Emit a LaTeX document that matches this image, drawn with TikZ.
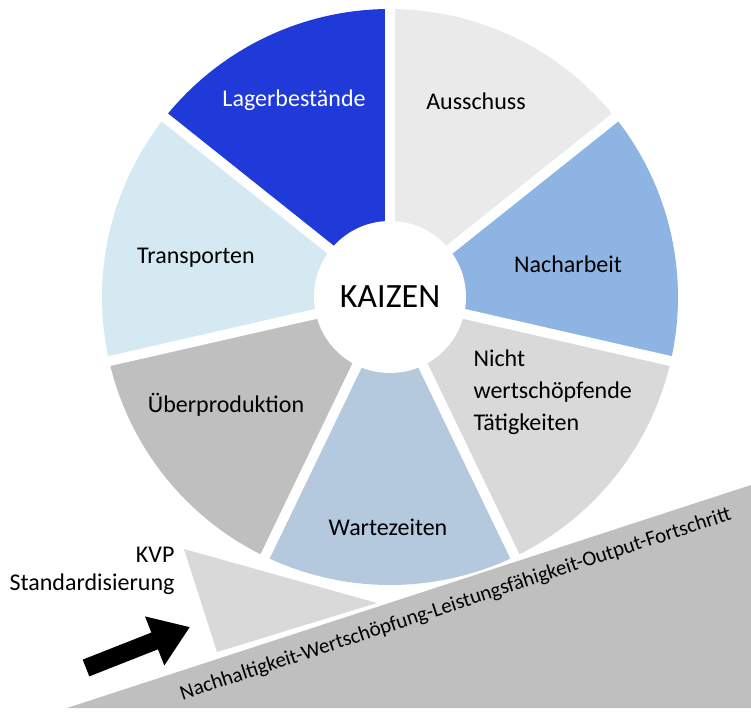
\documentclass[tikz,border=0pt]{standalone}
\usepackage{fontspec}
\setmainfont{Carlito}
\usetikzlibrary{arrows.meta}
\definecolor{cLag}{HTML}{1F3AD8}
\definecolor{cAus}{HTML}{EAEAEA}
\definecolor{cNach}{HTML}{8EB4E3}
\definecolor{cNicht}{HTML}{D9D9D9}
\definecolor{cWart}{HTML}{B4C8DE}
\definecolor{cUeb}{HTML}{BFBFBF}
\definecolor{cTrans}{HTML}{D5E9F2}
\definecolor{cRamp}{HTML}{BFBFBF}
\definecolor{cWedge}{HTML}{D9D9D9}
\begin{document}
\begin{tikzpicture}[x=1pt,y=-1pt,
  lbl/.style={font=\fontsize{24}{29}\selectfont,text=black,align=left}]
\useasboundingbox (0,0) rectangle (751,711);
\coordinate (c) at (390,297);
\foreach \a/\col in {90/cAus,38.571/cNach,-12.857/cNicht,-64.286/cWart,-115.714/cUeb,-167.143/cTrans,-218.571/cLag}{
  \fill[\col] (c) -- ++({-\a}:288) arc[start angle={-\a},end angle={-\a+51.429},radius=288] -- cycle;
}
\foreach \a in {90,38.571,-12.857,-64.286,-115.714,-167.143,-218.571}
  \draw[white,line width=10pt] (c) -- ++({-\a}:295);
\fill[white] (c) circle (76);
\node[lbl,font=\fontsize{34}{40}\selectfont] (k) at (c) {KAIZEN};
\node[lbl,text=white] (n1) at (294,100) {Lagerbestände};
\node[lbl] (n2) at (476,101) {Ausschuss};
\node[lbl] (n3) at (568,264) {Nacharbeit};
\node[lbl,anchor=west,font=\fontsize{24}{32}\selectfont] (n4) at (470,392) {Nicht\\wertschöpfende\\Tätigkeiten};
\node[lbl] (n5) at (388,527) {Wartezeiten};
\node[lbl] (n6) at (226,405) {Überproduktion};
\node[lbl] (n7) at (196,258) {Transporten};
% ramp
\fill[cRamp] (67,708) -- (751,485) -- (751,708) -- cycle;
\node[lbl,font=\fontsize{21}{24}\selectfont,rotate=18.2,anchor=south west,inner sep=1pt] (r) at (183,705) {Nachhaltigkeit-Wertschöpfung-Leistungsfähigkeit-Output-Fortschritt};
% wedge
\fill[cWedge] (184,549) -- (377,603) -- (217,652) -- cycle;
\node[lbl,anchor=east] (kvp) at (178,555) {KVP};
\node[lbl,anchor=east] (std) at (178,584) {Standardisierung};
\coordinate (at) at (86,668);
\coordinate (ah) at (190,627);
\draw[black,line width=18pt,-{Triangle[length=38pt,width=50pt]}] (at) -- (ah);
\end{tikzpicture}
\end{document}
